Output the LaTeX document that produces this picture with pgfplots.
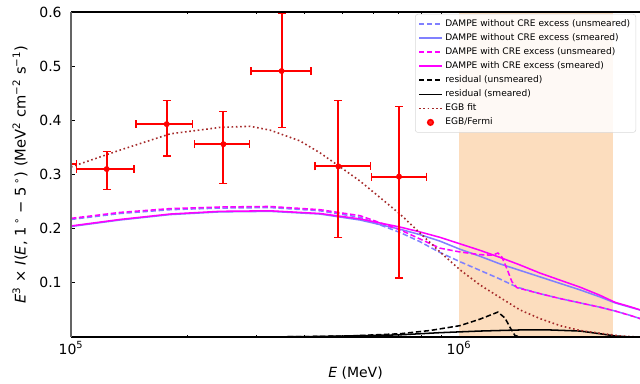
\documentclass[border=0pt]{standalone}
\usepackage{fontspec}
\setmainfont{DejaVu Sans}
\usepackage{pgfplots}
\usepackage{pgfplotstable}
\pgfplotsset{compat=1.18}
\definecolor{bandc}{RGB}{252,221,190}
\definecolor{lblue}{RGB}{128,128,255}
\definecolor{mag}{RGB}{255,0,255}
\definecolor{egb}{RGB}{165,42,42}
\definecolor{rred}{RGB}{255,0,0}
\definecolor{spinegray}{RGB}{100,100,100}

\pgfplotstableread{
x y xp xm yp ym
8.6e4 0.319 1.74e4 1.4e4 0.03 0.03
1.236e5 0.310 2.18e4 2.02e4 0.032 0.038
1.765e5 0.393 2.89e4 2.94e4 0.044 0.059
2.47e5 0.356 4.1e4 3.9e4 0.060 0.072
3.49e5 0.491 6.66e4 5.8e4 0.107 0.104
4.887e5 0.315 1.035e5 0.631e5 0.122 0.131
7.006e5 0.296 1.25e5 1.049e5 0.129 0.187
}\fermidata

\begin{document}
\begin{tikzpicture}
\useasboundingbox (-53.25pt,-34.5pt) rectangle (426.75pt,252.75pt);
\begin{axis}[
 at={(0,0)}, anchor=south west,
 scale only axis, width=426.75pt, height=243.75pt,
 xmode=log, xmin=1e5, xmax=2.928e6, ymin=0, ymax=0.6,
 clip mode=individual,
 separate axis lines, axis line style={draw=none},
 xtick={1e5,1e6}, xticklabels={10\textsuperscript{5},10\textsuperscript{6}},
 minor xtick={2e5,3e5,4e5,5e5,6e5,7e5,8e5,9e5,2e6},
 ytick={0.1,0.2,0.3,0.4,0.5,0.6}, yticklabels={0.1,0.2,0.3,0.4,0.5,0.6},
 xtick pos=both, ytick pos=left, tick align=inside,
 major tick length=3pt, minor tick length=1.5pt,
 tick style={black, line width=0.6pt},
 ticklabel style={font=\fontsize{10.5}{12}\selectfont},
 yticklabel style={xshift=-3.5pt},
 label style={font=\fontsize{10.5}{12}\selectfont},
 xlabel={\textit{E} (MeV)},
 xlabel style={at={(axis description cs:0.5,-0.1108)}, anchor=center},
 ylabel={\textit{E}\textsuperscript{3} × \textit{I}(\textit{E}, 1\,\textsuperscript{∘} − 5\,\textsuperscript{∘}) (MeV\textsuperscript{2} cm\textsuperscript{−2} s\textsuperscript{−1})},
 ylabel style={at={(axis description cs:-0.0896,0.5)}, anchor=center, font=\fontsize{11}{13}\selectfont},
 legend style={at={(0.993,0.994)}, anchor=north east, draw=black!15, rounded corners=2pt,
   fill=white, fill opacity=0.85, text opacity=1, draw opacity=1, font=\fontsize{6.8}{8}\selectfont,
   row sep=-0.15pt, inner sep=2.2pt},
 legend cell align=left,
 legend image post style={line width=1.3pt},
]
\addplot[draw=none, fill=bandc, forget plot] coordinates {(1e6,0) (1e6,0.6) (2.5e6,0.6) (2.5e6,0)} -- cycle;

% DAMPE without CRE excess (unsmeared)
\addplot[lblue, line width=1.15pt, dash pattern=on 4pt off 2pt] coordinates {
(1e5,0.217) (1.337e5,0.228) (1.8e5,0.235) (2.421e5,0.238) (3.257e5,0.239) (4.383e5,0.233)
(5.556e5,0.221) (7.046e5,0.193) (7.933e5,0.176) (8.933e5,0.156) (1.006e6,0.139) (1.133e6,0.123)
(1.275e6,0.107) (1.411e6,0.092) (1.617e6,0.080) (1.821e6,0.071) (2.051e6,0.063) (2.309e6,0.055)
(2.524e6,0.048) (2.759e6,0.040) (2.928e6,0.034)};
\addlegendentry{DAMPE without CRE excess (unsmeared)}
% DAMPE without CRE excess (smeared)
\addplot[lblue, line width=1.15pt] coordinates {
(1e5,0.204) (1.337e5,0.216) (1.8e5,0.226) (2.421e5,0.231) (3.257e5,0.232) (4.383e5,0.227)
(5.556e5,0.216) (7.046e5,0.199) (7.933e5,0.189) (8.933e5,0.177) (1.006e6,0.162) (1.133e6,0.149)
(1.275e6,0.135) (1.436e6,0.123) (1.617e6,0.111) (1.821e6,0.099) (2.051e6,0.087) (2.309e6,0.074)
(2.524e6,0.063) (2.759e6,0.055) (2.928e6,0.050)};
\addlegendentry{DAMPE without CRE excess (smeared)}
% DAMPE with CRE excess (unsmeared)
\addplot[mag, line width=1.15pt, dash pattern=on 4pt off 2pt] coordinates {
(1e5,0.219) (1.337e5,0.230) (1.8e5,0.237) (2.421e5,0.240) (3.257e5,0.241) (4.383e5,0.235)
(5.556e5,0.224) (7.046e5,0.198) (7.933e5,0.181) (8.933e5,0.164) (1.006e6,0.157) (1.133e6,0.152)
(1.22e6,0.151) (1.26e6,0.155) (1.291e6,0.147) (1.329e6,0.126) (1.369e6,0.102) (1.411e6,0.091)
(1.617e6,0.080) (1.821e6,0.071) (2.051e6,0.063) (2.309e6,0.055) (2.524e6,0.048) (2.759e6,0.040)
(2.928e6,0.034)};
\addlegendentry{DAMPE with CRE excess (unsmeared)}
% DAMPE with CRE excess (smeared)
\addplot[mag, line width=1.15pt] coordinates {
(1e5,0.205) (1.337e5,0.217) (1.8e5,0.227) (2.421e5,0.232) (3.257e5,0.233) (4.383e5,0.228)
(5.556e5,0.218) (7.046e5,0.203) (7.933e5,0.194) (8.933e5,0.184) (1.006e6,0.172) (1.133e6,0.160)
(1.275e6,0.147) (1.436e6,0.133) (1.617e6,0.118) (1.821e6,0.105) (2.051e6,0.092) (2.309e6,0.077)
(2.524e6,0.064) (2.759e6,0.056) (2.928e6,0.050)};
\addlegendentry{DAMPE with CRE excess (smeared)}
% residual (unsmeared)
\addplot[black, line width=1.15pt, dash pattern=on 4pt off 2pt] coordinates {
(2.15e5,0) (3.892e5,0.0005) (5.236e5,0.002) (7.046e5,0.006) (8.42e5,0.012) (1.006e6,0.021)
(1.133e6,0.033) (1.26e6,0.046) (1.314e6,0.035) (1.353e6,0.018) (1.393e6,0.003) (1.436e6,0)
(2.928e6,0)};
\addlegendentry{residual (unsmeared)}
% residual (smeared)
\addplot[black, line width=1.15pt] coordinates {
(2.15e5,0) (3.892e5,0.0005) (5.236e5,0.002) (7.046e5,0.004) (8.933e5,0.008) (1.133e6,0.011)
(1.436e6,0.013) (1.716e6,0.013) (2.051e6,0.011) (2.309e6,0.006) (2.524e6,0.002) (2.759e6,0)
(2.928e6,0)};
\addlegendentry{residual (smeared)}
% EGB fit
\addplot[egb, line width=1.2pt, dash pattern=on 1.2pt off 2pt] coordinates {
(1e5,0.314) (1.337e5,0.345) (1.8e5,0.375) (2.421e5,0.387) (2.893e5,0.389) (3.257e5,0.382)
(3.892e5,0.362) (4.383e5,0.340) (4.85e5,0.318) (5.556e5,0.288) (7.046e5,0.227) (7.933e5,0.192)
(8.933e5,0.157) (1.006e6,0.124) (1.133e6,0.096) (1.275e6,0.073) (1.436e6,0.050) (1.617e6,0.034)
(1.821e6,0.021) (2.051e6,0.012) (2.309e6,0.007) (2.6e6,0.002) (2.928e6,0.000)};
\addlegendentry{EGB fit}
% EGB/Fermi
\addplot[rred, only marks, mark=*, mark size=2pt, mark options={draw=rred, fill=rred},
  error bars/.cd, x dir=both, x explicit, y dir=both, y explicit,
  error bar style={line width=1.5pt, draw=rred, solid},
  error mark=-, error mark options={rotate=90, mark size=3pt, line width=1pt, draw=rred}]
  table[x=x, y=y, x error plus=xp, x error minus=xm, y error plus=yp, y error minus=ym] {\fermidata};
\addlegendentry{EGB/Fermi}

\draw[black, line width=0.8pt] (rel axis cs:0,1) -- (rel axis cs:1,1);
\draw[black, line width=1pt] (rel axis cs:0,0) -- (rel axis cs:1,0);
\draw[spinegray, line width=1.5pt] (rel axis cs:0,0) -- (rel axis cs:0,1);
\end{axis}
\end{tikzpicture}
\end{document}
